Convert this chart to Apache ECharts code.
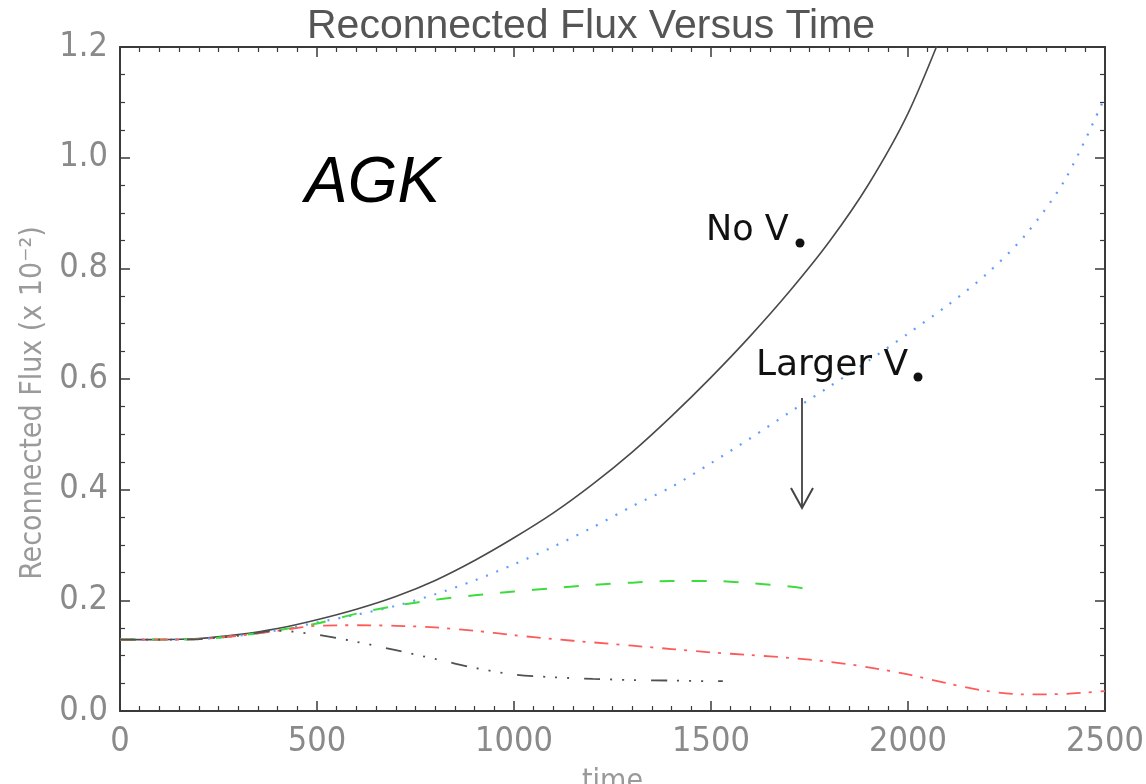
<!DOCTYPE html>
<html>
<head>
<meta charset="utf-8">
<script src="https://cdn.jsdelivr.net/npm/echarts@6/dist/echarts.min.js"></script>
<style>
  html, body { margin: 0; padding: 0; background: #fff; }
  #chart { width: 1146px; height: 784px; }
</style>
</head>
<body>
<div id="chart"></div>
<script>
// Reconnected flux (units of 1e-2) against time for several V* runs
const time = [0, 100, 200, 300, 400, 500, 600, 700, 800, 900, 1000, 1100, 1200, 1300, 1400,
              1500, 1600, 1700, 1800, 1900, 2000, 2100, 2200, 2300, 2400, 2500];

// No V* (solid)
const fluxNoV = [0.129, 0.129, 0.131, 0.138, 0.149, 0.165, 0.184, 0.207, 0.236, 0.272, 0.313,
                 0.358, 0.410, 0.468, 0.533, 0.603, 0.678, 0.759, 0.848, 0.952, 1.080, 1.250];
// Small V* (dotted)
const fluxV1 = [0.129, 0.129, 0.130, 0.136, 0.146, 0.160, 0.174, 0.190, 0.211, 0.236, 0.265,
                0.297, 0.332, 0.370, 0.405, 0.448, 0.493, 0.540, 0.586, 0.633, 0.682, 0.733,
                0.790, 0.862, 0.962, 1.110];
// Moderate V* (dashed)
const timeV2 = [0, 100, 200, 300, 400, 500, 600, 700, 800, 900, 1000, 1100, 1200, 1300, 1400,
                1500, 1600, 1700, 1740];
const fluxV2 = [0.129, 0.129, 0.130, 0.136, 0.146, 0.158, 0.176, 0.190, 0.201, 0.209, 0.216,
                0.222, 0.228, 0.232, 0.235, 0.235, 0.231, 0.225, 0.221];
// Larger V* (dash-dot)
const fluxV3 = [0.129, 0.129, 0.130, 0.136, 0.145, 0.154, 0.155, 0.154, 0.151, 0.145, 0.137,
                0.130, 0.124, 0.118, 0.112, 0.106, 0.101, 0.096, 0.089, 0.079, 0.066, 0.050,
                0.036, 0.030, 0.031, 0.036];
// Largest V* (dash-dot-dot-dot)
const timeV4 = [0, 100, 200, 300, 400, 500, 600, 700, 800, 900, 1000, 1100, 1200, 1300, 1400,
                1500, 1530];
const fluxV4 = [0.129, 0.129, 0.130, 0.136, 0.145, 0.138, 0.125, 0.110, 0.094, 0.078, 0.066,
                0.061, 0.058, 0.056, 0.055, 0.054, 0.054];

const xTicks = [0, 500, 1000, 1500, 2000, 2500];
const yTicks = [0.0, 0.2, 0.4, 0.6, 0.8, 1.0, 1.2];

const pair = (xs, ys) => ys.map((y, i) => [xs[i], y]);

const axisGray = '#3a3a3a';
const labelFont = "'Liberation Sans Narrow', 'DejaVu Sans Condensed', sans-serif";

// Box frame: every side carries inward major and minor ticks
function frameAxis(extra, minorSplit) {
  return Object.assign({
    type: 'value',
    axisLine: { show: true, onZero: false, lineStyle: { color: axisGray, width: 2 } },
    axisTick: { show: true, inside: true, length: 10, lineStyle: { color: axisGray, width: 1.5 } },
    minorTick: { show: true, splitNumber: minorSplit, length: 5, lineStyle: { color: axisGray, width: 1.2 } },
    splitLine: { show: false },
    minorSplitLine: { show: false }
  }, extra);
}

const xBase = { min: xTicks[0], max: xTicks[xTicks.length - 1], interval: 500 };
const yBase = { min: yTicks[0], max: yTicks[yTicks.length - 1], interval: 0.2 };

const chart = echarts.init(document.getElementById('chart'), null, { renderer: 'canvas' });

const lineSeries = (name, data, color, type, width) => ({
  name, type: 'line', data, xAxisIndex: 0, yAxisIndex: 0,
  showSymbol: false, smooth: 0.3, clip: true,
  lineStyle: { color, width, type },
  z: 3
});

chart.setOption({
  animation: false,
  backgroundColor: '#ffffff',
  title: {
    text: 'Reconnected Flux Versus Time',
    left: 302, top: 1,
    textStyle: { fontFamily: "'Liberation Sans', Arial, sans-serif", fontSize: 41,
                 fontWeight: 'normal', color: '#555' }
  },
  grid: { left: 120, right: 41, top: 47, bottom: 73, outerBoundsMode: 'none', containLabel: false },
  xAxis: [
    frameAxis(Object.assign({}, xBase, {
      position: 'bottom',
      name: 'time', nameLocation: 'middle', nameGap: 56,
      nameTextStyle: { fontFamily: labelFont, fontSize: 30, color: '#999' },
      axisLabel: { margin: 14, fontFamily: labelFont, fontSize: 34, color: '#8a8a8a',
                   formatter: v => String(v) }
    }), 10),
    frameAxis(Object.assign({}, xBase, {
      position: 'top',
      axisLabel: { show: false }
    }), 10)
  ],
  yAxis: [
    frameAxis(Object.assign({}, yBase, {
      position: 'left',
      name: 'Reconnected Flux (x 10\u207B\u00B2)', nameLocation: 'middle', nameGap: 62, nameRotate: 90,
      nameTextStyle: { fontFamily: labelFont, fontSize: 30, color: '#9a9a9a', padding: [0, 48, 0, 0] },
      axisLabel: { margin: 12, fontFamily: labelFont, fontSize: 34, color: '#8a8a8a',
                   formatter: v => v.toFixed(1) }
    }), 4),
    frameAxis(Object.assign({}, yBase, {
      position: 'right',
      axisLabel: { show: false }
    }), 4)
  ],
  series: [
    lineSeries('No V*', pair(time, fluxNoV), '#4a4a4a', 'solid', 1.6),
    lineSeries('V1', pair(time, fluxV1), '#5f9dff', [2, 9], 2.2),
    lineSeries('V2', pair(timeV2, fluxV2), '#3ddc3d', [15, 17], 2),
    lineSeries('V3', pair(time, fluxV3), '#ff5a5a', [14, 8, 3, 9], 1.8),
    lineSeries('V4', pair(timeV4, fluxV4), '#505050', [16, 10, 2, 10, 2, 10, 2, 15], 1.8)
  ],
  graphic: [
    { type: 'text', left: 305, top: 152, z: 10,
      style: { text: 'AGK', fontFamily: "'Liberation Sans', Arial, sans-serif", fontStyle: 'italic',
               fontSize: 64, fill: '#000' } },
    { type: 'text', left: 706, top: 213, z: 10,
      style: { text: 'No V', fontFamily: "'DejaVu Sans', sans-serif", fontSize: 35, fill: '#111' } },
    { type: 'circle', shape: { cx: 800, cy: 243, r: 4.5 }, z: 10, style: { fill: '#111' } },
    { type: 'text', left: 756, top: 348, z: 10,
      style: { text: 'Larger V', fontFamily: "'DejaVu Sans', sans-serif", fontSize: 36, fill: '#111' } },
    { type: 'circle', shape: { cx: 918, cy: 377, r: 4.5 }, z: 10, style: { fill: '#111' } },
    { type: 'line', shape: { x1: 802, y1: 398, x2: 802, y2: 508 }, z: 10,
      style: { stroke: '#555', lineWidth: 2 } },
    { type: 'polyline', shape: { points: [[791, 488], [802, 508], [813, 488]] }, z: 10,
      style: { stroke: '#444', lineWidth: 2, fill: null } }
  ]
});
</script>
</body>
</html>
